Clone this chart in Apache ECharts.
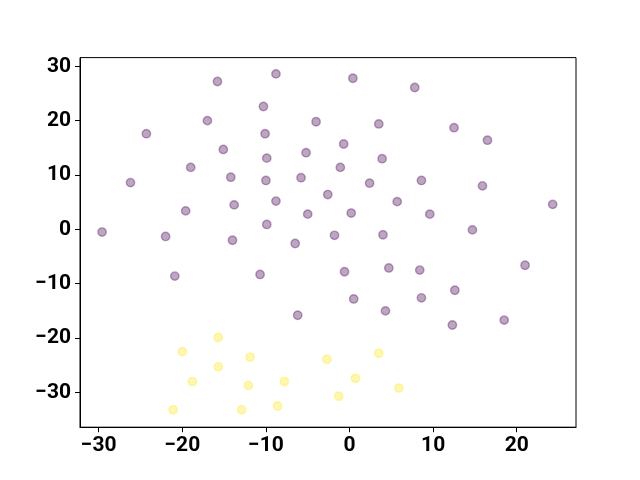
<!DOCTYPE html>
<html>
<head>
<meta charset="utf-8">
<script src="https://cdn.jsdelivr.net/npm/echarts@6/dist/echarts.min.js"></script>
<style>html,body{margin:0;padding:0;background:#fff}#c{width:640px;height:480px}</style>
</head>
<body>
<div id="c"></div>
<script>
// class 0 (purple) points [x, y]
const class0 = [
  [-15.8, 27.2], [-8.8, 28.6], [-10.3, 22.6], [-17.0, 20.0], [-4.0, 19.8],
  [-24.3, 17.6], [-10.1, 17.6], [-15.1, 14.7], [-9.9, 13.1], [-5.2, 14.1],
  [-19.0, 11.4], [-14.2, 9.6], [-10.0, 9.0], [-5.8, 9.5], [-2.6, 6.4],
  [-26.2, 8.6], [-19.6, 3.4], [-13.8, 4.5], [-8.8, 5.2], [-5.0, 2.8],
  [-29.6, -0.5], [-22.0, -1.3], [-14.0, -2.0], [-9.9, 0.9], [-6.5, -2.6],
  [0.4, 27.8], [7.8, 26.1], [3.5, 19.4], [12.5, 18.7], [16.5, 16.4],
  [-0.7, 15.7], [3.9, 13.0], [-1.1, 11.4], [2.4, 8.5], [8.6, 9.0],
  [15.9, 8.0], [5.7, 5.1], [0.2, 3.0], [9.6, 2.8], [24.3, 4.6],
  [-1.8, -1.1], [4.0, -1.0], [14.7, -0.1],
  [-20.9, -8.6], [-10.7, -8.3], [-6.2, -15.8],
  [-0.6, -7.8], [4.7, -7.1], [8.4, -7.5], [21.0, -6.6], [0.5, -12.8],
  [8.6, -12.6], [12.6, -11.2], [4.3, -15.0], [12.3, -17.6], [18.5, -16.7]
];
// class 1 (yellow) points [x, y]
const class1 = [
  [-15.7, -19.9], [-20.0, -22.5], [-11.9, -23.5], [-15.7, -25.3], [-2.7, -23.9],
  [-18.8, -28.0], [-12.1, -28.7], [-7.8, -28.0], [-21.1, -33.2], [-12.9, -33.2],
  [-8.6, -32.5], [3.5, -22.8], [0.7, -27.4], [-1.3, -30.7], [5.9, -29.2]
];
const xTicks = [-30, -20, -10, 0, 10, 20];
const yTicks = [-30, -20, -10, 0, 10, 20, 30];

const fmt = v => String(v).replace('-', '\u2212');
const labelStyle = {fontFamily: '"Liberation Sans Narrow", Roboto', fontWeight: 'bold', fontSize: 21, color: '#000'};

const chart = echarts.init(document.getElementById('c'), null, {renderer: 'canvas'});
chart.setOption({
  animation: false,
  backgroundColor: '#fff',
  grid: {left: 80, right: 64, top: 57.6, bottom: 52.8, show: true, borderColor: '#000', borderWidth: 1, backgroundColor: 'transparent'},
  xAxis: {
    type: 'value', min: -32.24, max: 27.09,
    axisLine: {show: true, onZero: false, lineStyle: {color: '#000', width: 1}},
    axisTick: {show: true, length: 5, customValues: xTicks, lineStyle: {color: '#000', width: 1}},
    axisLabel: Object.assign({margin: 8, customValues: xTicks, formatter: fmt}, labelStyle),
    splitLine: {show: false}
  },
  yAxis: {
    type: 'value', min: -36.4, max: 31.6,
    axisLine: {show: true, onZero: false, lineStyle: {color: '#000', width: 1}},
    axisTick: {show: true, length: 5, customValues: yTicks, lineStyle: {color: '#000', width: 1}},
    axisLabel: Object.assign({margin: 9, customValues: yTicks, formatter: fmt}, labelStyle),
    splitLine: {show: false}
  },
  series: [
    {type: 'scatter', data: class0, symbolSize: 8.4,
     itemStyle: {color: '#440154', borderColor: '#440154', borderWidth: 1.4, opacity: 0.35}},
    {type: 'scatter', data: class1, symbolSize: 8.4,
     itemStyle: {color: '#fde725', borderColor: '#fde725', borderWidth: 1.4, opacity: 0.35}}
  ]
});
</script>
</body>
</html>
